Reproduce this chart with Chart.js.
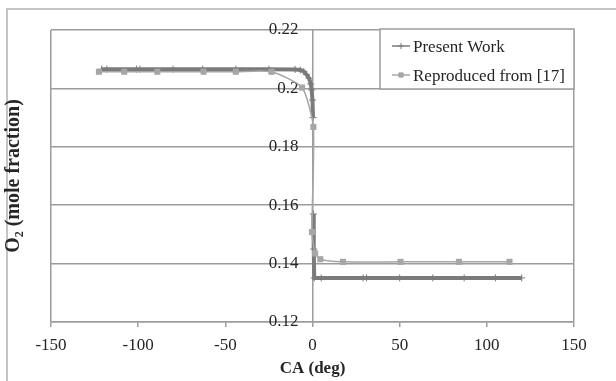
<!DOCTYPE html>
<html>
<head>
<meta charset="utf-8">
<script src="https://cdn.jsdelivr.net/npm/chart.js@4/dist/chart.umd.min.js"></script>
<style>
  html, body { margin: 0; padding: 0; background: #fff; overflow: hidden; }
  #wrap { position: relative; width: 616px; height: 381px; }
  /* outer chart frame, only its left and top edges fall inside the picture */
  #frame { position: absolute; left: 6px; top: 8px; width: 660px; height: 420px; border: 2px solid #c4c4c4; }
  canvas { position: absolute; left: 0; top: 0; }
</style>
</head>
<body>
<div id="wrap"><div id="frame"></div><canvas id="chart"></canvas></div>
<script>
// O2 mole fraction against crank angle.
const presentCA = [-121, -118, -101, -99, -80, -63, -44, -25, -10, -7, -5, -3.5, -2, -1, -0.5, 0, 0.3, 0.4, 0.5, 0.7, 1, 5, 29, 31, 50, 69, 87, 105, 120];
const presentO2 = [0.2066, 0.2066, 0.2066, 0.2066, 0.2066, 0.2066, 0.2066, 0.2066, 0.2065, 0.2063, 0.2058, 0.2048, 0.2035, 0.2015, 0.1995, 0.196, 0.190, null, 0.157, 0.145, 0.1351, 0.1351, 0.1351, 0.1351, 0.1351, 0.1351, 0.1351, 0.1351, 0.1351];

const reproCA = [-122.5, -108, -89, -62.5, -44, -23.5, -6, 0.5, -0.3, 1.5, 4.5, 17.5, 50.5, 84, 113];
const reproO2 = [0.2057, 0.2057, 0.2057, 0.2057, 0.2057, 0.2057, 0.2003, 0.1868, 0.1508, 0.1435, 0.1415, 0.1406, 0.1406, 0.1406, 0.1406];

const seriesNames = ['Present Work', 'Reproduced from [17]'];
const o2TickLabels = ['0.12', '0.14', '0.16', '0.18', '0.2', '0.22'];

const SERIF = '"Liberation Serif", "Times New Roman", serif';
const TEXT = '#252525';
const GRID = '#9c9c9c';

const toPoints = (xs, ys) => xs.map((x, i) => ({ x, y: ys[i] }));

// Excel-style boxed legend sitting in the top right corner of the plot.
const boxLegend = {
  id: 'boxLegend',
  afterDraw(chart) {
    const { ctx, chartArea } = chart;
    const w = 194, h = 60;
    const left = chartArea.right - w, top = chartArea.top - 1;
    ctx.save();
    ctx.fillStyle = '#fff';
    ctx.strokeStyle = GRID;
    ctx.lineWidth = 1.5;
    ctx.fillRect(left, top, w, h);
    ctx.strokeRect(left, top, w, h);
    ctx.font = '17px ' + SERIF;
    ctx.textBaseline = 'middle';
    chart.data.datasets.forEach((ds, i) => {
      const y = top + 19 + i * 29;
      ctx.strokeStyle = ds.borderColor;
      ctx.fillStyle = ds.backgroundColor;
      ctx.lineWidth = 1.5;
      ctx.beginPath();
      ctx.moveTo(left + 12, y - 2);
      ctx.lineTo(left + 30, y - 2);
      ctx.stroke();
      ctx.lineWidth = 1;
      Chart.helpers.drawPoint(ctx, { pointStyle: ds.pointStyle, radius: 3, borderWidth: 1, rotation: 0 }, left + 21, y - 2);
      ctx.fillStyle = TEXT;
      ctx.fillText(ds.label, left + 33, y);
    });
    ctx.restore();
  },
};

new Chart(document.getElementById('chart'), {
  type: 'scatter',
  plugins: [boxLegend],
  data: {
    datasets: [
      {
        label: seriesNames[0],
        data: toPoints(presentCA, presentO2),
        showLine: true,
        spanGaps: false,
        borderColor: '#7b7b7b',
        backgroundColor: '#7b7b7b',
        borderWidth: 4,
        pointStyle: 'cross',
        pointRadius: 3.5,
        pointBorderWidth: 1,
        order: 2,
      },
      {
        label: seriesNames[1],
        data: toPoints(reproCA, reproO2),
        showLine: true,
        tension: 0.2,
        borderColor: '#a6a6a6',
        backgroundColor: '#a6a6a6',
        borderWidth: 1.5,
        pointStyle: 'rect',
        pointRadius: 4.3,
        pointBorderWidth: 0,
        order: 1,
      },
    ],
  },
  options: {
    responsive: true,
    maintainAspectRatio: false,
    devicePixelRatio: 1,
    animation: false,
    layout: { padding: { left: 2, right: 42, top: 30, bottom: 2 } },
    plugins: {
      legend: { display: false },
      tooltip: { enabled: false },
    },
    scales: {
      x: {
        type: 'linear',
        min: -150,
        max: 150,
        position: 'bottom',
        border: { color: GRID, width: 1.5 },
        grid: {
          // plot-area edges plus the vertical axis line at CA = 0
          color: (c) => (c.tick && (Math.abs(c.tick.value) === 150 || c.tick.value === 0)) ? GRID : 'transparent',
          lineWidth: 1.5,
          tickColor: GRID,
          tickLength: 5,
        },
        ticks: {
          stepSize: 50,
          padding: 8,
          color: TEXT,
          font: { family: SERIF, size: 17 },
        },
        title: {
          display: true,
          text: 'CA (deg)',
          color: TEXT,
          font: { family: SERIF, size: 17, weight: 'bold' },
          padding: { top: 3, bottom: 0 },
        },
        afterFit: (s) => { s.height = 57; },
      },
      y: {
        type: 'linear',
        min: 0.12,
        max: 0.22,
        // Chart.js ignores tick padding for axes pinned to a value, so the
        // labels are pinned slightly left of CA = 0 to keep them off the line
        position: { x: -8 },
        border: { display: false },
        grid: { color: GRID, lineWidth: 1.5, drawTicks: false },
        ticks: {
          stepSize: 0.02,
          color: TEXT,
          font: { family: SERIF, size: 17 },
          callback: (v, i) => o2TickLabels[i],
        },
      },
      yTitle: {
        type: 'linear',
        min: 0.12,
        max: 0.22,
        position: 'left',
        grid: { display: false, drawTicks: false },
        border: { display: false },
        ticks: { display: false },
        title: {
          display: true,
          text: 'O₂ (mole fraction)',
          color: TEXT,
          font: { family: SERIF, size: 20, weight: 'bold' },
          padding: { top: 0, bottom: 0 },
        },
        afterFit: (s) => { s.width = 49; },
      },
    },
  },
});
</script>
</body>
</html>
